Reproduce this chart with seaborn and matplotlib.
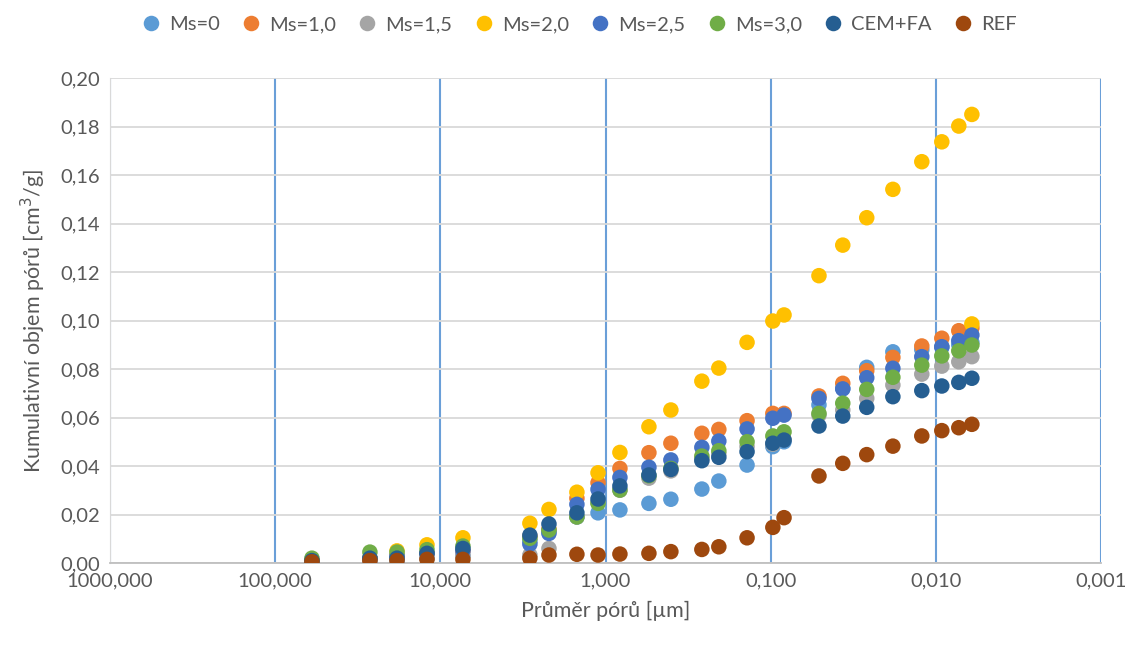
import pandas as pd
import numpy as np
import matplotlib.pyplot as plt
import seaborn as sns
from matplotlib.ticker import FixedLocator, FuncFormatter, NullLocator

# pore diameters [um], shared by all series
diameters = [59.9, 26.7, 18.3, 12.05, 7.3, 2.87, 2.2, 1.49, 1.11, 0.818,
             0.546, 0.402, 0.261, 0.206, 0.139, 0.097, 0.083, 0.051, 0.0366,
             0.0262, 0.0182, 0.01216, 0.0092, 0.00726, 0.00605]

ms_0 = [0.001, 0.001, 0.001, 0.002, 0.003, 0.009, 0.013, 0.019, 0.0207, 0.0219,
        0.0246, 0.0263, 0.0305, 0.0338, 0.0404, 0.048, 0.050, 0.0652, 0.072,
        0.0807, 0.0871, 0.088, 0.089, 0.090, 0.091]
ms_10 = [0.001, 0.002, 0.003, 0.004, 0.005, 0.011, 0.014, 0.0267, 0.0331, 0.039,
         0.0455, 0.0494, 0.0535, 0.0551, 0.0587, 0.0617, 0.0617, 0.0689, 0.0741,
         0.0793, 0.0848, 0.0895, 0.0927, 0.0958, 0.097]
ms_15 = [0.0005, 0.001, 0.002, 0.002, 0.003, 0.0033, 0.006, 0.019, 0.025, 0.030,
         0.035, 0.038, 0.043, 0.045, 0.048, 0.049, 0.051, 0.061, 0.0631,
         0.0679, 0.0734, 0.0779, 0.0812, 0.083, 0.0851]
ms_20 = [0.001, 0.002, 0.005, 0.0075, 0.0104, 0.0164, 0.0221, 0.0292, 0.0372, 0.0456,
         0.0562, 0.0631, 0.075, 0.0804, 0.091, 0.0998, 0.1023, 0.1185, 0.1311,
         0.1424, 0.1541, 0.1655, 0.1737, 0.1802, 0.185]
ms_25 = [0.001, 0.002, 0.003, 0.004, 0.005, 0.0078, 0.0122, 0.0242, 0.0304, 0.0353,
         0.0395, 0.0425, 0.0477, 0.0503, 0.0553, 0.0597, 0.061, 0.0679, 0.0718,
         0.0764, 0.0803, 0.0851, 0.0892, 0.0917, 0.094]
ms_30 = [0.002, 0.0045, 0.0045, 0.0055, 0.007, 0.0102, 0.0136, 0.019, 0.0246, 0.0301,
         0.036, 0.039, 0.0441, 0.0463, 0.050, 0.0524, 0.0541, 0.0617, 0.0659,
         0.0716, 0.0766, 0.0816, 0.0854, 0.0875, 0.0899]
cem_fa = [0.001, 0.002, 0.002, 0.004, 0.006, 0.0115, 0.0161, 0.0207, 0.0264, 0.0318,
          0.0363, 0.0386, 0.0422, 0.0436, 0.0459, 0.0494, 0.0507, 0.0565, 0.0606,
          0.0642, 0.0686, 0.0711, 0.073, 0.0745, 0.0762]
ref = [0.0005, 0.001, 0.001, 0.0015, 0.0015, 0.002, 0.0033, 0.0036, 0.0033, 0.0037,
       0.004, 0.0047, 0.0056, 0.0067, 0.0104, 0.0147, 0.0187, 0.0359, 0.0411,
       0.0447, 0.0482, 0.0524, 0.0546, 0.0558, 0.0572]

# one extra Ms=2,0 point seen at the smallest diameter
ms_20_extra_x = [0.00605]
ms_20_extra_y = [0.0986]

series_names = ["Ms=0", "Ms=1,0", "Ms=1,5", "Ms=2,0", "Ms=2,5", "Ms=3,0", "CEM+FA", "REF"]
series_values = [ms_0, ms_10, ms_15, ms_20, ms_25, ms_30, cem_fa, ref]
colors = ["#5B9BD5", "#ED7D31", "#A5A5A5", "#FFC000", "#4472C4", "#70AD47", "#255E91", "#9E480E"]

x_ticks = [1000, 100, 10, 1, 0.1, 0.01, 0.001]
y_ticks = [0.00, 0.02, 0.04, 0.06, 0.08, 0.10, 0.12, 0.14, 0.16, 0.18, 0.20]

# build long-form table
frames = []
for name, vals in zip(series_names, series_values):
    frames.append(pd.DataFrame({"d": diameters, "v": vals, "serie": name}))
frames.append(pd.DataFrame({"d": ms_20_extra_x, "v": ms_20_extra_y, "serie": "Ms=2,0"}))
df = pd.concat(frames, ignore_index=True)
df["serie"] = pd.Categorical(df["serie"], categories=series_names, ordered=True)
df = df.sort_values("serie", kind="stable")

sns.set_style("white")
plt.rcParams["font.family"] = ["Lato", "DejaVu Sans"]

fig = plt.figure(figsize=(11.32, 6.45), dpi=100)
ax = fig.add_axes([0.0972, 0.1271, 0.8754, 0.7519])

sns.scatterplot(data=df, x="d", y="v", hue="serie", hue_order=series_names,
                palette=colors, s=125, linewidth=0, ax=ax, legend=True, zorder=3)

ax.set_xscale("log")
ax.set_xlim(1000, 0.001)
ax.set_ylim(0, 0.20)

ax.xaxis.set_major_locator(FixedLocator(x_ticks))
ax.xaxis.set_minor_locator(NullLocator())
ax.xaxis.set_major_formatter(FuncFormatter(lambda v, p: f"{v:.3f}".replace(".", ",")))
ax.yaxis.set_major_locator(FixedLocator(y_ticks))
ax.yaxis.set_major_formatter(FuncFormatter(lambda v, p: f"{v:.2f}".replace(".", ",")))

ax.grid(axis="y", color="#D9D9D9", linewidth=1.3, zorder=0)
ax.grid(axis="x", color="#6A9FD8", linewidth=1.5, zorder=1)
ax.set_axisbelow(True)

for side in ["top", "right"]:
    ax.spines[side].set_visible(False)
ax.spines["left"].set_color("#D9D9D9")
ax.spines["bottom"].set_color("#BFBFBF")
ax.spines["bottom"].set_linewidth(1.3)

ax.tick_params(axis="both", length=0, labelsize=14.5, labelcolor="#595959", pad=7)

ax.set_xlabel("Průměr pórů [µm]", fontsize=15.5, color="#595959", labelpad=8)
ax.set_ylabel("Kumulativní objem pórů [cm$^3$/g]", fontsize=15.5, color="#595959", labelpad=9)

handles, labels = ax.get_legend_handles_labels()
ax.legend(handles, labels, loc="upper center", bbox_to_anchor=(0.468, 1.145),
          ncol=8, frameon=False, fontsize=14.5, handletextpad=-0.1, columnspacing=0.55,
          markerscale=1.0, labelcolor="#595959", borderaxespad=0)

fig.savefig("out.png", dpi=100)
